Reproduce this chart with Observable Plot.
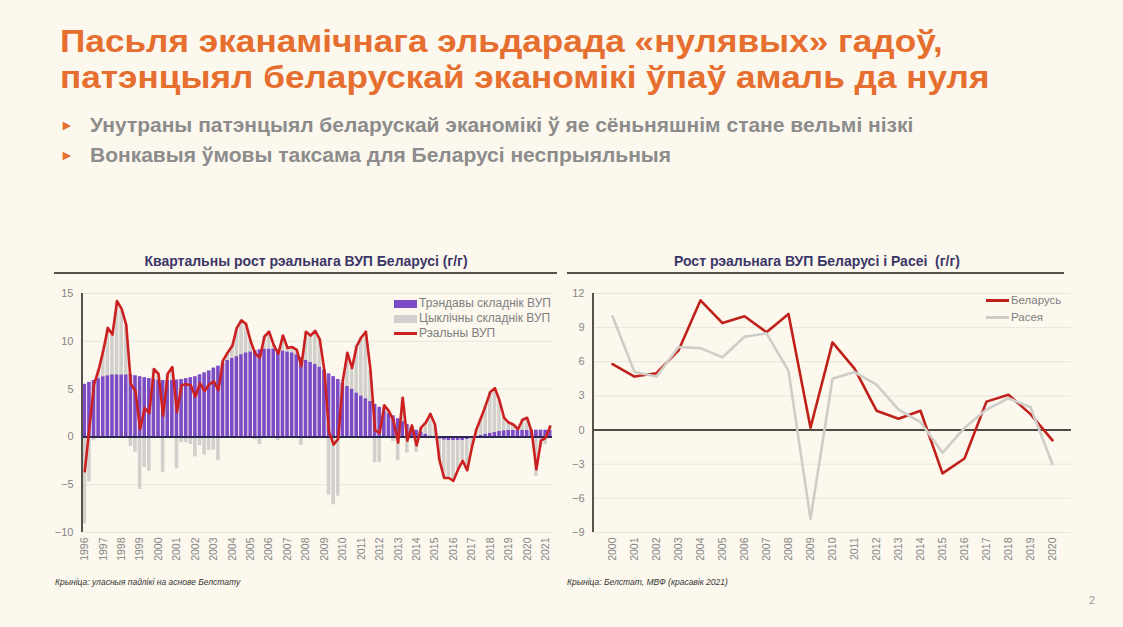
<!DOCTYPE html>
<html><head><meta charset="utf-8">
<script src="https://cdn.jsdelivr.net/npm/d3@7"></script>
<script src="https://cdn.jsdelivr.net/npm/@observablehq/plot@0.6"></script>
<style>
html,body{margin:0;padding:0}
body{background:#fcf8ee;width:1123px;height:627px;overflow:hidden;position:relative;font-family:"Liberation Sans",Arial,sans-serif}
.abs{position:absolute}
.title{left:60px;font-size:32px;line-height:36px;height:36px;font-weight:bold;color:#e66e2e;white-space:nowrap;transform:scaleX(1.1);transform-origin:0 0}
.bullet{left:60px;font-size:21px;line-height:21px;font-weight:bold;color:#8c8c8c;white-space:nowrap}
.bullet .mk{color:#e66e2e;font-size:14px;display:inline-block;width:30px;vertical-align:2px}
.ptitle{font-size:14px;font-weight:bold;color:#3b3668;white-space:nowrap;transform:translateX(-50%)}
.uline{height:2px;background:#55524a}
.cap{font-size:8.5px;font-style:italic;color:#333;white-space:nowrap}
.leg{color:#7f7f7f;white-space:nowrap}
.sw{display:inline-block;width:23px;margin-right:2px;vertical-align:middle}
</style>
</head><body>
<div class="abs title" style="top:22.5px">Пасьля эканамічнага эльдарада «нулявых» гадоў,</div>
<div class="abs title" style="top:58.7px">патэнцыял беларускай эканомікі ўпаў амаль да нуля</div>
<div class="abs bullet" style="top:114px"><span class="mk">►</span>Унутраны патэнцыял беларускай эканомікі ў яе сёньняшнім стане вельмі нізкі</div>
<div class="abs bullet" style="top:144px"><span class="mk">►</span>Вонкавыя ўмовы таксама для Беларусі неспрыяльныя</div>

<div class="abs ptitle" style="left:306px;top:253px">Квартальны рост рэальнага ВУП Беларусі (г/г)</div>
<div class="abs uline" style="left:54px;top:272px;width:503px"></div>
<div class="abs ptitle" style="left:817px;top:253px">Рост рэальнага ВУП Беларусі і Расеі&nbsp; (г/г)</div>
<div class="abs uline" style="left:567px;top:272px;width:497px"></div>

<div id="left" class="abs" style="left:55px;top:283px"></div>
<div id="right" class="abs" style="left:567px;top:283px"></div>

<div class="abs leg" style="left:394px;top:296px;font-size:12px">
  <div style="height:15px;line-height:15px"><span class="sw" style="height:8px;background:#7c4cc4"></span>Трэндавы складнік ВУП</div>
  <div style="height:15px;line-height:15px"><span class="sw" style="height:8px;background:#d2d0cc"></span>Цыклічны складнік ВУП</div>
  <div style="height:15px;line-height:15px"><span class="sw" style="height:3px;background:#cc1f1f"></span>Рэальны ВУП</div>
</div>
<div class="abs leg" style="left:986px;top:292px;font-size:11.5px">
  <div style="height:17px;line-height:17px"><span class="sw" style="height:3px;background:#c0201a"></span>Беларусь</div>
  <div style="height:17px;line-height:17px"><span class="sw" style="height:3px;background:#cfcdc8"></span>Расея</div>
</div>

<div class="abs cap" style="left:55px;top:577px">Крыніца: уласныя падлікі на аснове Белстату</div>
<div class="abs cap" style="left:567px;top:577px">Крыніца: Белстат, МВФ (красавік 2021)</div>
<div class="abs" style="left:1089px;top:594px;font-size:11px;color:#9a9a9a">2</div>

<script>
// ---- Left chart data (quarterly, 1996Q1 .. 2021Q2) ----
const quarterYears = [1996,1997,1998,1999,2000,2001,2002,2003,2004,2005,2006,2007,2008,2009,2010,2011,2012,2013,2014,2015,2016,2017,2018,2019,2020,2021];
const trend = [
 5.5,5.7,5.9,6.1,6.3,6.4,6.5,6.5,6.5,6.5,6.5,
 6.4,6.3,6.2,6.1,6.0,5.95,5.9,5.9,5.9,5.95,
 6.0,6.1,6.2,6.3,6.5,6.7,6.9,7.2,7.4,7.7,
 8.0,8.2,8.4,8.6,8.8,8.9,9.0,9.1,9.2,9.2,
 9.2,9.1,9.0,8.9,8.8,8.6,8.3,8.0,7.8,7.6,
 7.3,7.0,6.6,6.3,6.0,5.6,5.3,5.0,4.6,4.3,
 4.0,3.7,3.4,3.1,2.8,2.5,2.2,1.9,1.6,1.3,
 1.0,0.7,0.5,0.3,0.1,-0.1,-0.25,-0.35,-0.4,-0.4,
 -0.4,-0.4,-0.3,-0.15,0.0,0.15,0.3,0.4,0.5,0.6,
 0.65,0.7,0.7,0.7,0.7,0.7,0.7,0.7,0.7,0.7,0.7
];
const gdp = [
 -3.6,1.0,5.5,7.0,9.0,11.4,10.7,14.2,13.4,11.7,5.5,
 4.8,0.8,3.0,2.5,7.1,6.6,2.2,6.6,7.3,2.6,
 5.4,5.5,5.4,4.2,5.6,4.8,5.5,5.8,4.9,8.0,
 8.8,9.5,11.4,12.2,11.8,10.0,8.7,8.3,10.5,11.0,
 9.6,8.7,10.6,9.3,9.4,9.1,7.4,11.0,10.6,11.1,
 10.2,6.9,0.5,-0.8,-0.2,5.9,8.8,7.2,9.5,10.4,
 11.0,7.0,0.7,0.4,3.3,2.7,1.7,-0.6,4.1,-0.4,
 1.2,-0.9,1.0,1.5,2.4,1.3,-2.5,-4.3,-4.3,-4.6,
 -3.4,-2.5,-3.5,-1.1,0.8,2.0,3.3,4.7,5.1,3.8,
 2.0,1.5,1.3,0.8,1.8,2.0,0.5,-3.4,-0.4,-0.1,1.1
];
const leftYTicks = [-10,-5,0,5,10,15];

// ---- Right chart data (annual) ----
const years = [2000,2001,2002,2003,2004,2005,2006,2007,2008,2009,2010,2011,2012,2013,2014,2015,2016,2017,2018,2019,2020];
const belarus = [5.8,4.7,5.0,7.0,11.4,9.4,10.0,8.6,10.2,0.2,7.7,5.4,1.7,1.0,1.7,-3.8,-2.5,2.5,3.1,1.4,-0.9];
const russia = [10.0,5.1,4.7,7.3,7.2,6.4,8.2,8.5,5.2,-7.8,4.5,5.1,4.0,1.8,0.7,-2.0,0.2,1.8,2.8,2.0,-3.0];
const rightYTicks = [-9,-6,-3,0,3,6,9,12];

// ---- build tables ----
const quarters = [];
for (const y of quarterYears) for (const q of [1,2,3,4]) quarters.push(y + "Q" + q);
const qIds = quarters.slice(0, gdp.length);
const qRows = qIds.map((q, i) => ({q, trend: trend[i], gdp: gdp[i]}));
const barRows = [];
qRows.forEach(d => {
  barRows.push({q: d.q, s: "trend", v: d.trend});
  barRows.push({q: d.q, s: "cycle", v: +(d.gdp - d.trend).toFixed(2)});
});

function axisLine(color, w) {
  return (index, scales, values, dims) => {
    const l = document.createElementNS("http://www.w3.org/2000/svg", "line");
    l.setAttribute("x1", dims.marginLeft); l.setAttribute("x2", dims.marginLeft);
    l.setAttribute("y1", dims.marginTop); l.setAttribute("y2", dims.height - dims.marginBottom);
    l.setAttribute("stroke", color); l.setAttribute("stroke-width", w);
    return l;
  };
}

const style = {background: "transparent", fontFamily: "Liberation Sans, Arial, sans-serif", fontSize: "11px", color: "#858585", overflow: "visible"};

const left = Plot.plot({
  width: 503, height: 292,
  marginLeft: 27, marginRight: 6, marginTop: 10, marginBottom: 43,
  style,
  x: {type: "band", domain: qIds, padding: 0, axis: null},
  y: {domain: [-10, 15], axis: null},
  marks: [
    Plot.ruleY(leftYTicks, {stroke: "#e9e5d9", strokeWidth: 1}),
    Plot.barY(barRows, {x: "q", y: "v", fill: d => d.s === "trend" ? "#7c4cc4" : "#d2d0cc", insetLeft: 0.5, insetRight: 0.5}),
    Plot.ruleY([0], {stroke: "#2a2750", strokeWidth: 2}),
    Plot.line(qRows, {x: "q", y: "gdp", stroke: "#cc1f1f", strokeWidth: 2.6, curve: "linear"}),
    axisLine("#55524a", 2),
    Plot.axisY({ticks: leftYTicks, tickSize: 0, tickPadding: 9, label: null, fontSize: 11}),
    Plot.axisX({ticks: quarterYears.map(y => y + "Q1"), tickFormat: q => q.slice(0, 4), tickRotate: -90, tickSize: 0, tickPadding: 5, label: null, fontSize: 10.5})
  ]
});
document.getElementById("left").appendChild(left);

const rRows = years.map((y, i) => ({year: y, s: "Беларусь", v: belarus[i]}));
const rRowsRu = years.map((y, i) => ({year: y, s: "Расея", v: russia[i]}));

const right = Plot.plot({
  width: 516, height: 292,
  marginLeft: 26, marginRight: 12, marginTop: 10, marginBottom: 43,
  style,
  x: {type: "point", domain: years, padding: 0.5, axis: null},
  y: {domain: [-9, 12], axis: null},
  marks: [
    Plot.ruleY(rightYTicks, {stroke: "#e9e5d9", strokeWidth: 1}),
    Plot.ruleY([0], {stroke: "#4d4b44", strokeWidth: 2}),
    Plot.line(rRows, {x: "year", y: "v", stroke: "#c0201a", strokeWidth: 2.6}),
    Plot.line(rRowsRu, {x: "year", y: "v", stroke: "#cfcdc8", strokeWidth: 2.6}),
    axisLine("#55524a", 2),
    Plot.axisY({ticks: rightYTicks, tickSize: 0, tickPadding: 9, label: null, fontSize: 11}),
    Plot.axisX({ticks: years, tickFormat: d => String(d), tickRotate: -90, tickSize: 0, tickPadding: 5, label: null, fontSize: 10.5})
  ]
});
document.getElementById("right").appendChild(right);
</script>
</body></html>
